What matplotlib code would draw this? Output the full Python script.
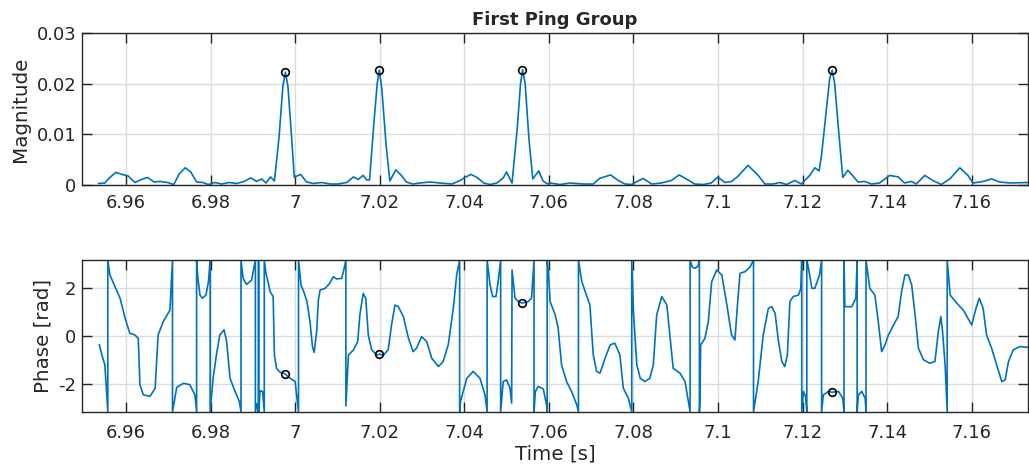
import matplotlib
matplotlib.use('Agg')
import numpy as np
import matplotlib.pyplot as plt


# magnitude of the matched-filter output
mag_t = [6.9535, 6.9550, 6.9562, 6.9576, 6.9590, 6.9605, 6.9621, 6.9637, 6.9651, 6.9666,
         6.9680, 6.9698, 6.9713, 6.9726, 6.9740, 6.9753, 6.9767, 6.9781, 6.9795, 6.9810,
         6.9826, 6.9844, 6.9862, 6.9879, 6.9895, 6.9909, 6.9921, 6.9931, 6.9942, 6.9951,
         6.9962, 6.9971, 6.9977, 6.9983, 6.9992, 6.9998, 7.0005, 7.0013, 7.0027, 7.0043,
         7.0063, 7.0082, 7.0102, 7.0122, 7.0138, 7.0149, 7.0161, 7.0169, 7.0176, 7.0186,
         7.0194, 7.0199, 7.0205, 7.0215, 7.0224, 7.0238, 7.0250, 7.0263, 7.0278, 7.0295,
         7.0319, 7.0342, 7.0371, 7.0390, 7.0404, 7.0416, 7.0430, 7.0446, 7.0461, 7.0477,
         7.0492, 7.0500, 7.0508, 7.0513, 7.0525, 7.0533, 7.0538, 7.0544, 7.0553, 7.0562,
         7.0576, 7.0586, 7.0597, 7.0603, 7.0626, 7.0650, 7.0681, 7.0705, 7.0720, 7.0746,
         7.0764, 7.0780, 7.0795, 7.0823, 7.0843, 7.0866, 7.0890, 7.0908, 7.0925, 7.0945,
         7.0965, 7.0984, 7.1000, 7.1016, 7.1032, 7.1047, 7.1071, 7.1095, 7.1111, 7.1130,
         7.1146, 7.1162, 7.1182, 7.1197, 7.1217, 7.1229, 7.1239, 7.1245, 7.1255, 7.1264,
         7.1270, 7.1276, 7.1286, 7.1295, 7.1307, 7.1319, 7.1331, 7.1347, 7.1363, 7.1382,
         7.1406, 7.1426, 7.1441, 7.1457, 7.1469, 7.1489, 7.1508, 7.1528, 7.1548, 7.1572,
         7.1591, 7.1603, 7.1627, 7.1647, 7.1666, 7.1690, 7.1735]
mag_val = [0.0003, 0.0004, 0.0015, 0.0025, 0.0021, 0.0018, 0.0005, 0.0011, 0.0015, 0.0006,
           0.0007, 0.0005, 0.0001, 0.0022, 0.0034, 0.0026, 0.0006, 0.0005, 0.0001, 0.0005,
           0.0002, 0.0005, 0.0003, 0.0007, 0.0014, 0.0007, 0.0012, 0.0004, 0.0016, 0.0008,
           0.0095, 0.0195, 0.0223, 0.0195, 0.0090, 0.0015, 0.0018, 0.0021, 0.0006, 0.0003,
           0.0005, 0.0002, 0.0002, 0.0005, 0.0016, 0.0011, 0.0019, 0.0010, 0.0010, 0.0120,
           0.0200, 0.0227, 0.0190, 0.0080, 0.0008, 0.0030, 0.0020, 0.0006, 0.0002, 0.0004,
           0.0006, 0.0004, 0.0002, 0.0009, 0.0016, 0.0021, 0.0015, 0.0004, 0.0001, 0.0004,
           0.0014, 0.0026, 0.0012, 0.0004, 0.0110, 0.0200, 0.0228, 0.0200, 0.0090, 0.0012,
           0.0028, 0.0008, 0.0002, 0.0004, 0.0001, 0.0004, 0.0002, 0.0002, 0.0013, 0.0020,
           0.0009, 0.0002, 0.0001, 0.0013, 0.0002, 0.0004, 0.0009, 0.0020, 0.0012, 0.0002,
           0.0001, 0.0004, 0.0016, 0.0005, 0.0007, 0.0017, 0.0039, 0.0019, 0.0002, 0.0002,
           0.0005, 0.0001, 0.0009, 0.0002, 0.0019, 0.0034, 0.0028, 0.0060, 0.0140, 0.0210,
           0.0227, 0.0200, 0.0100, 0.0015, 0.0029, 0.0018, 0.0006, 0.0007, 0.0002, 0.0004,
           0.0019, 0.0016, 0.0004, 0.0007, 0.0002, 0.0019, 0.0009, 0.0001, 0.0012, 0.0034,
           0.0019, 0.0004, 0.0007, 0.0012, 0.0006, 0.0004, 0.0005]

# wrapped phase; repeated times are the +/-pi wraps
phase_t = [6.9537, 6.9543, 6.9550, 6.9557, 6.9557, 6.9562, 6.9574, 6.9586, 6.9598, 6.9609,
           6.9621, 6.9629, 6.9633, 6.9641, 6.9657, 6.9669, 6.9676, 6.9688, 6.9704, 6.9710,
           6.9710, 6.9720, 6.9736, 6.9751, 6.9763, 6.9767, 6.9767, 6.9770, 6.9775, 6.9781,
           6.9789, 6.9795, 6.9799, 6.9799, 6.9806, 6.9815, 6.9822, 6.9832, 6.9838, 6.9846,
           6.9858, 6.9868, 6.9872, 6.9872, 6.9877, 6.9885, 6.9897, 6.9906, 6.9906, 6.9910,
           6.9913, 6.9913, 6.9914, 6.9914, 6.9917, 6.9923, 6.9927, 6.9927, 6.9931, 6.9941,
           6.9948, 6.9951, 6.9956, 6.9964, 6.9976, 6.9988, 7.0000, 7.0008, 7.0008, 7.0014,
           7.0021, 7.0028, 7.0035, 7.0041, 7.0045, 7.0051, 7.0055, 7.0059, 7.0071, 7.0082,
           7.0090, 7.0098, 7.0110, 7.0116, 7.0120, 7.0120, 7.0126, 7.0138, 7.0148, 7.0153,
           7.0161, 7.0167, 7.0173, 7.0181, 7.0193, 7.0199, 7.0209, 7.0220, 7.0228, 7.0236,
           7.0244, 7.0256, 7.0268, 7.0279, 7.0287, 7.0299, 7.0311, 7.0323, 7.0339, 7.0350,
           7.0362, 7.0374, 7.0382, 7.0389, 7.0389, 7.0391, 7.0406, 7.0421, 7.0437, 7.0449,
           7.0454, 7.0454, 7.0461, 7.0467, 7.0475, 7.0480, 7.0486, 7.0486, 7.0492, 7.0500,
           7.0508, 7.0512, 7.0513, 7.0520, 7.0528, 7.0537, 7.0551, 7.0559, 7.0565, 7.0565,
           7.0568, 7.0575, 7.0587, 7.0595, 7.0596, 7.0596, 7.0599, 7.0603, 7.0615, 7.0622,
           7.0630, 7.0642, 7.0654, 7.0666, 7.0670, 7.0670, 7.0678, 7.0690, 7.0697, 7.0705,
           7.0713, 7.0721, 7.0733, 7.0745, 7.0756, 7.0768, 7.0776, 7.0788, 7.0796, 7.0796,
           7.0800, 7.0808, 7.0816, 7.0827, 7.0839, 7.0847, 7.0855, 7.0867, 7.0879, 7.0887,
           7.0894, 7.0910, 7.0922, 7.0930, 7.0934, 7.0934, 7.0939, 7.0946, 7.0953, 7.0956,
           7.0956, 7.0957, 7.0959, 7.0969, 7.0977, 7.0985, 7.0997, 7.1009, 7.1021, 7.1032,
           7.1040, 7.1046, 7.1052, 7.1064, 7.1076, 7.1084, 7.1084, 7.1095, 7.1107, 7.1119,
           7.1127, 7.1135, 7.1143, 7.1151, 7.1158, 7.1164, 7.1170, 7.1178, 7.1190, 7.1196,
           7.1198, 7.1198, 7.1202, 7.1207, 7.1210, 7.1210, 7.1213, 7.1222, 7.1229, 7.1240,
           7.1245, 7.1245, 7.1249, 7.1261, 7.1270, 7.1285, 7.1295, 7.1298, 7.1298, 7.1300,
           7.1316, 7.1326, 7.1329, 7.1329, 7.1332, 7.1340, 7.1348, 7.1350, 7.1350, 7.1359,
           7.1371, 7.1379, 7.1387, 7.1395, 7.1403, 7.1415, 7.1426, 7.1434, 7.1442, 7.1450,
           7.1458, 7.1466, 7.1474, 7.1486, 7.1501, 7.1513, 7.1521, 7.1527, 7.1531, 7.1537,
           7.1542, 7.1542, 7.1549, 7.1565, 7.1580, 7.1600, 7.1610, 7.1618, 7.1627, 7.1635,
           7.1647, 7.1659, 7.1671, 7.1679, 7.1687, 7.1698, 7.1714, 7.1736]
phase_val = [-0.37, -0.79, -1.20, -3.14, 3.14, 2.52, 2.04, 1.56, 0.73, 0.11,
             0.04, -0.10, -2.02, -2.44, -2.50, -2.16, 0.04, 0.59, 1.07, 3.14,
             -3.14, -2.13, -1.96, -2.02, -2.44, -3.14, 3.14, 2.40, 1.69, 1.56,
             1.69, 2.24, 3.14, -3.14, -1.75, -0.65, 0.04, 0.25, -0.23, -1.75,
             -2.30, -2.71, -3.14, 3.14, 2.38, 2.13, 2.31, 3.14, -3.14, -2.80,
             -3.14, 3.14, 3.14, -3.14, -2.27, -2.30, -3.14, 3.14, 2.60, 1.83,
             1.63, -0.79, -1.34, -1.50, -1.57, -1.75, -1.89, -3.14, 3.14, 2.10,
             1.80, 1.42, 0.60, -0.45, -0.68, 0.20, 1.50, 1.90, 1.97, 2.18,
             2.45, 2.36, 2.38, 2.80, 3.14, -2.90, -0.79, -0.58, -0.23, 0.87,
             1.76, 1.56, 0.04, -0.58, -0.79, -0.76, -0.79, -0.58, 0.45, 1.28,
             1.21, 0.80, -0.10, -0.65, -0.51, -0.03, -0.23, -0.92, -1.27, -1.06,
             -0.37, 1.14, 2.52, 3.14, -3.14, -2.71, -1.75, -1.47, -1.75, -2.44,
             -3.14, 3.14, 2.11, 1.63, 1.63, 2.24, 3.14, -3.14, -1.89, -1.82,
             -2.16, -2.78, 2.73, 1.56, 1.42, 1.36, 1.42, 1.56, 3.14, -3.14,
             -2.30, -2.09, -2.20, -2.90, -3.14, 3.14, 2.60, 1.42, 0.87, 0.32,
             -1.20, -1.89, -2.31, -2.85, -3.14, 3.14, 2.24, 1.63, 1.28, -0.79,
             -1.47, -1.54, -0.92, -0.37, -0.30, -0.79, -2.16, -2.58, -3.14, 3.14,
             1.00, -1.20, -1.75, -1.89, -1.75, -1.20, 0.87, 1.63, 1.28, -0.10,
             -1.34, -1.54, -1.89, -2.71, -3.14, 3.14, 2.85, 2.80, 2.90, 3.14,
             -3.14, -2.85, -0.37, -0.10, 0.59, 2.24, 2.73, 2.52, 1.28, 0.04,
             -0.17, 1.28, 2.59, 2.66, 2.86, 3.14, -3.14, -1.89, 0.04, 1.14,
             1.21, 0.94, -0.23, -1.06, -1.27, -0.79, 1.42, 1.63, 1.69, 1.97,
             3.14, -3.14, -2.30, -2.50, -3.14, 3.14, 2.90, 1.97, 1.97, 2.52,
             3.14, -3.14, -2.44, -2.30, -2.33, -2.30, -2.58, -3.14, 3.14, 1.21,
             1.21, 1.56, 3.14, -3.14, -2.44, -2.30, -2.58, -3.14, 3.14, 1.97,
             1.69, 0.59, -0.65, -0.37, 0.04, 0.45, 0.80, 1.83, 2.52, 2.52,
             2.11, 0.87, -0.51, -0.99, -1.13, -1.06, 0.18, 0.80, 0.18, -1.20,
             -3.14, 3.14, 1.69, 1.35, 1.07, 0.45, 1.14, 1.56, 1.14, 0.04,
             -0.51, -1.20, -1.89, -1.82, -1.06, -0.58, -0.44, -0.48]

# detected pings
ping_t = [6.9977, 7.0199, 7.0537, 7.1270]
ping_mag = [0.0223, 0.0227, 0.0228, 0.0227]
ping_phase = [-1.57, -0.76, 1.36, -2.33]

x_ticks = [6.96, 6.98, 7.0, 7.02, 7.04, 7.06, 7.08, 7.1, 7.12, 7.14, 7.16]
x_labels = ['6.96', '6.98', '7', '7.02', '7.04', '7.06', '7.08', '7.1', '7.12', '7.14', '7.16']

LINE = '#0072BD'
DARK = '#262626'


def style_axes(ax, label_pad):
    ax.set_xlim(6.9496, 7.1733)
    ax.set_xticks(x_ticks)
    ax.set_xticklabels(x_labels)
    ax.grid(True, color='#dcdcdc', linewidth=1.0)
    ax.set_axisbelow(True)
    ax.tick_params(direction='in', length=7, width=1.0, color=DARK,
                   top=True, right=True, labelsize=13, labelcolor=DARK)
    ax.tick_params(axis='x', pad=label_pad)
    ax.tick_params(axis='y', pad=4)
    for s in ax.spines.values():
        s.set_color(DARK)
        s.set_linewidth(1.0)


def main():
    fig = plt.figure(figsize=(10.29, 4.75), dpi=100)
    ax1 = fig.add_axes([0.0797, 0.6105, 0.9193, 0.3195])
    ax2 = fig.add_axes([0.0797, 0.1330, 0.9193, 0.3196])

    ax1.plot(mag_t, mag_val, color=LINE, linewidth=1.2)
    ax1.plot(ping_t, ping_mag, 'o', color='black', mfc='none', ms=5.5, mew=1.2)
    ax1.set_ylim(0, 0.03)
    ax1.set_yticks([0, 0.01, 0.02, 0.03])
    ax1.set_yticklabels(['0', '0.01', '0.02', '0.03'])
    ax1.set_ylabel('Magnitude', fontsize=14.3, color=DARK, labelpad=5)
    ax1.set_title('First Ping Group', fontsize=13, fontweight='bold', color=DARK, pad=6)
    style_axes(ax1, 6.5)

    ax2.plot(phase_t, phase_val, color=LINE, linewidth=1.2)
    ax2.plot(ping_t, ping_phase, 'o', color='black', mfc='none', ms=5.5, mew=1.2)
    ax2.set_ylim(-np.pi, np.pi)
    ax2.set_yticks([-2, 0, 2])
    ax2.set_yticklabels(['-2', '0', '2'])
    ax2.set_ylabel('Phase [rad]', fontsize=14.3, color=DARK, labelpad=4)
    ax2.set_xlabel('Time [s]', fontsize=14.3, color=DARK, labelpad=2)
    style_axes(ax2, 8.5)

    fig.savefig('out.png', dpi=100)


if __name__ == "__main__":
    main()
